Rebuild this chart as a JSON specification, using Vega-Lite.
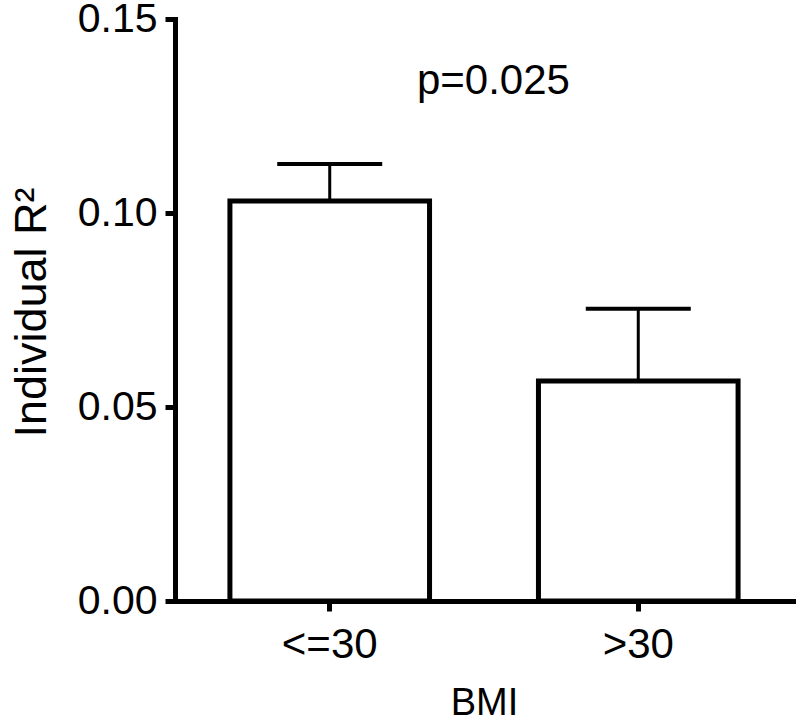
{
  "$schema": "https://vega.github.io/schema/vega-lite/v6.json",
  "width": 618,
  "height": 582,
  "autosize": "none",
  "padding": {"left": 175, "top": 19, "right": 7, "bottom": 122},
  "background": "white",
  "config": {"view": {"stroke": null}, "font": "Liberation Sans"},
  "data": {"values": [
    {"BMI": "<=30", "mean": 0.1031, "upper": 0.1126},
    {"BMI": ">30", "mean": 0.0567, "upper": 0.0753}
  ]},
  "layer": [
    {
      "mark": {"type": "rule", "strokeWidth": 3, "color": "black"},
      "encoding": {
        "x": {"field": "BMI", "type": "nominal", "sort": null},
        "y": {"field": "mean", "type": "quantitative"},
        "y2": {"field": "upper"}
      }
    },
    {
      "mark": {"type": "bar", "fill": "white", "stroke": "black", "strokeWidth": 5},
      "encoding": {
        "x": {
          "field": "BMI", "type": "nominal", "sort": null,
          "scale": {"paddingInner": 0.353, "paddingOuter": 0.178},
          "axis": {
            "title": "BMI", "labelAngle": 0, "labelAlign": "center", "labelBaseline": "top",
            "labelFontSize": 42, "titleFontSize": 38,
            "titleFontWeight": "normal", "domainWidth": 5, "domainColor": "black",
            "tickWidth": 5, "tickSize": 10, "tickColor": "black", "labelColor": "black",
            "titleColor": "black", "labelPadding": 13, "titleY": 121, "titleX": 309,
            "titleBaseline": "bottom", "titleAlign": "center", "domainCap": "square"
          }
        },
        "y": {
          "field": "mean", "type": "quantitative",
          "scale": {"domain": [0, 0.15], "nice": false},
          "axis": {
            "values": [0, 0.05, 0.1, 0.15], "format": ".2f", "title": "Individual R²",
            "labelFontSize": 41, "titleFontSize": 45, "titleFontWeight": "normal",
            "domainWidth": 5, "domainColor": "black", "tickWidth": 5, "tickSize": 10,
            "tickColor": "black", "labelColor": "black", "titleColor": "black",
            "labelPadding": 8, "grid": false, "titleX": -130, "titleY": 293,
            "titleBaseline": "alphabetic", "domainCap": "square", "labelFlush": false
          }
        }
      }
    },
    {
      "mark": {"type": "tick", "thickness": 4, "size": 105, "color": "black", "opacity": 1},
      "encoding": {
        "x": {"field": "BMI", "type": "nominal", "sort": null},
        "y": {"field": "upper", "type": "quantitative"}
      }
    },
    {
      "data": {"values": [{"label": "p=0.025", "ypos": 0.134}]},
      "mark": {"type": "text", "fontSize": 42, "color": "black", "align": "center", "baseline": "middle"},
      "encoding": {
        "x": {"datum": "<=30", "bandPosition": 1.32},
        "y": {"field": "ypos", "type": "quantitative"},
        "text": {"field": "label"}
      }
    }
  ]
}
